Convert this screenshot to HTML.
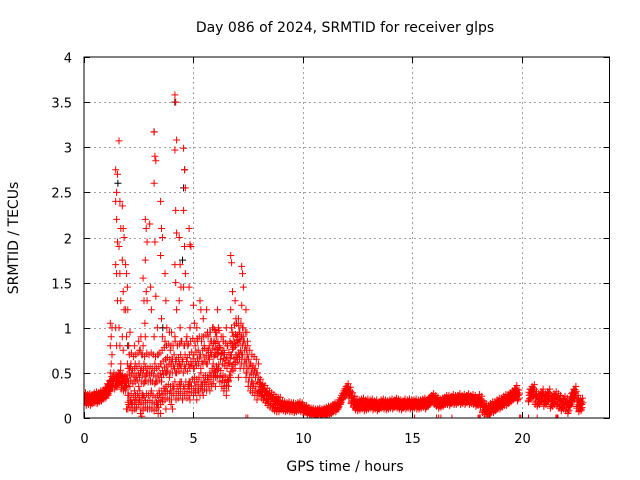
<!DOCTYPE html>
<html><head><meta charset="utf-8"><style>
body{margin:0;background:#fff}
svg{display:block;font-family:"DejaVu Sans","Liberation Sans",sans-serif}
</style></head><body>
<svg id="chart" width="640" height="480" viewBox="0 0 640 480">
<rect width="640" height="480" fill="#fff"/>
<text x="345" y="32" font-size="14" text-anchor="middle" fill="#000">Day 086 of 2024, SRMTID for receiver glps</text>
<text transform="translate(18,238) rotate(-90)" font-size="14" text-anchor="middle">SRMTID / TECUs</text>
<text x="345" y="471" font-size="14" text-anchor="middle">GPS time / hours</text>
<g id="grid"></g>
<g id="ticks"></g>
<g id="marks"></g>
<rect x="84" y="57" width="525.5" height="361" fill="none" stroke="#000" stroke-width="1"/>
</svg>
<script>
const xTicks=[0,5,10,15,20];
const yTicks=[0,0.5,1,1.5,2,2.5,3,3.5,4];
const yTickLabels=["0","0.5","1","1.5","2","2.5","3","3.5","4"];
const baseStart=0.0, baseStep=0.1;
const baseMid=[.22,.2,.21,.2,.22,.23,.22,.24,.25,.27,
.3,.33,.38,.42,.4,.42,.45,.4,.38,.4,
.4,.42,.38,.4,.42,.45,.4,.38,.42,.4,
.42,.4,.38,.4,.42,.45,.48,.5,.52,.5,
.5,.55,.5,.52,.55,.5,.55,.52,.55,.58,
.55,.58,.6,.55,.6,.62,.6,.65,.7,.68,
.7,.72,.65,.6,.58,.55,.6,.7,.78,.8,
.82,.85,.8,.75,.65,.55,.5,.48,.45,.4,
.35,.3,.28,.25,.22,.2,.18,.16,.15,.15,
.14,.13,.12,.13,.12,.12,.11,.12,.13,.12,
.1,.1,.08,.07,.07,.06,.06,.07,.06,.07,
.07,.08,.08,.1,.12,.12,.15,.2,.25,.3,
.32,.28,.22,.18,.15,.14,.15,.16,.14,.15,
.15,.16,.14,.15,.13,.15,.16,.15,.14,.15,
.16,.15,.17,.16,.15,.14,.16,.15,.16,.15,
.15,.16,.15,.15,.16,.17,.15,.18,.2,.22,
.2,.18,.16,.17,.18,.2,.2,.19,.21,.2,
.2,.22,.2,.21,.2,.22,.2,.21,.2,.18,
.2,.18,.12,.1,.08,.1,.12,.12,.14,.16,
.16,.18,.2,.2,.22,.24,.26,.3,.25,null,
null,null,null,.25,.28,.3,.22,.2,.22,.25,
.2,.22,.25,.18,.2,.22,.2,.18,.15,.17,
.15,.12,.2,.25,.28,.18,.14,.15];
const spreadPerHour=[.06,.08,.3,.3,.3,.3,.25,.2,.08,.05,.04,.05,.06,.05,.05,.05,.05,.05,.06,.06,.07,.07,.07,.07];
const spikeT=[1.2,1.45,1.6,1.75,1.9,2.1,2.3,2.5,2.7,2.8,3.0,3.2,3.5,3.7,3.9,4.15,4.35,4.55,4.8,5.0,5.3,5.6,5.9,6.1,6.35,6.7,6.9,7.2,7.4,7.6,2.0,2.6,3.35,4.0,4.7,5.15,5.45,5.75,6.0,6.5,7.05];
const spikeV=[[.5,.6,.7,.8,.9,1.0,1.05],[2.4,2.5,2.7,2.75,2.2,1.95,1.7,1.6,1.3,1.0,.8],[3.07,2.4,2.1,1.9,1.6,1.3,1.0,.8,.6,.4],[2.35,2.1,2.0,1.75,1.4,1.2,.9,.75],[1.7,1.6,1.45,1.2,.9,.6,.3,.1],[.95,.6,.5,.35,.2,.15],[.8,.6,.45,.3,.2,.1],[.85,.75,.5,.35,.2,.05],[1.55,1.3,1.05,.8,.6,.4,.25],[2.2,2.1,1.95,1.75,1.4,1.3,.9,.5],[2.15,1.45,1.2,.5,.4,.3,.1],[3.17,2.9,2.85,2.6,1.95,1.35,.9,.6,.4,.1],[2.4,2.1,2.0,1.8,1.1,.9,.6,.4,.2,.05],[1.6,1.3,1.0,.85,.65,.5,.3,.1],[.95,.75,.6,.45,.3,.15],[3.58,3.5,3.08,2.97,2.3,2.05,1.7,1.5,1.2,.9,.5],[2.0,1.7,1.45,1.3,1.0,.85,.6,.4],[2.99,2.75,2.55,2.3,1.9,1.6,1.45,.8,.55],[2.1,1.92,1.9,1.45,1.0,.6,.4,.2],[1.25,1.05,.8,.55,.45,.3],[1.3,1.2,.9,.7,.5,.35],[1.2,.95,.75,.6,.45],[1.0,.85,.7,.6,.5],[1.2,1.0,.8,.7,.55],[.9,.75,.6,.45,.3],[1.8,1.72,1.4,1.2,1.0,.8,.7],[1.3,1.1,.9,.8,.7],[1.68,1.6,1.45,1.25,1.0,.9,.7],[1.2,.95,.8,.6,.5,0],[.6,.5,.4,.3],[1.2,.8,.55,.25,.15],[.9,.7,.25,.1,.02],[1.0,.7,.3,.15,.05],[.95,.65,.35,.2,.1],[.9,.8,.35,.25],[1.0,.85,.3,.2],[1.1,.8,.4,.25],[.95,.85,.35,.3],[.95,.9,.45,.35],[1.0,.8,.4,.25],[1.1,.95,.55,.45]];
const zeroT=[7.4,10.8,15.1,16.1,16.2,16.3,16.8,18.0,18.05,18.1,18.55,19.9,19.95,20.3,20.7,21.55,21.6,21.65];
const blackT=[1.55,3.2,4.15,4.55,4.6,4.5,2.0,3.6];
const blackV=[2.6,3.17,3.5,2.55,2.75,1.75,0.8,1.0];

const X0=84,X1=609.5,Y0=418,Y1=57,XMAX=24,YMAX=4;
const sx=t=>X0+t/XMAX*(X1-X0);
const sy=v=>Y0-v/YMAX*(Y0-Y1);
const NS="http://www.w3.org/2000/svg";
const grid=document.getElementById('grid'),ticks=document.getElementById('ticks'),marks=document.getElementById('marks');
function ln(g,x1,y1,x2,y2,st,dash){const l=document.createElementNS(NS,'line');l.setAttribute('x1',x1);l.setAttribute('y1',y1);l.setAttribute('x2',x2);l.setAttribute('y2',y2);l.setAttribute('stroke',st);if(dash)l.setAttribute('stroke-dasharray',dash);g.appendChild(l);return l;}
xTicks.forEach(t=>{const x=Math.round(sx(t))+0.5;
 if(t>0){const g=ln(grid,x,Y1,x,Y0,'#a0a0a0','2,3');
 
 }
 ln(ticks,x,Y0,x,Y0-6,'#000');ln(ticks,x,Y1,x,Y1+6,'#000');
 const tx=document.createElementNS(NS,'text');tx.setAttribute('x',x);tx.setAttribute('y',443);tx.setAttribute('font-size','13');tx.setAttribute('text-anchor','middle');tx.textContent=t;
 
 
 ticks.appendChild(tx);});
yTicks.forEach((v,i)=>{const y=Math.round(sy(v))+0.5;
 if(v>0&&v<4){const g=ln(grid,X0,y,X1,y,'#a0a0a0','2,3');
 
 }
 ln(ticks,X0,y,X0+6,y,'#000');ln(ticks,X1,y,X1-6,y,'#000');
 const tx=document.createElementNS(NS,'text');tx.setAttribute('x',72);tx.setAttribute('y',y+5);tx.setAttribute('font-size','13');tx.setAttribute('text-anchor','end');tx.textContent=yTickLabels[i];
 
 
 ticks.appendChild(tx);});
let path='',pathB='';
function plus(t,v){const x=sx(t),y=sy(v);if(y>Y0+4)return '';return `M${(x-3.5).toFixed(1)} ${y.toFixed(1)}h7M${x.toFixed(1)} ${(y-3.5).toFixed(1)}v7`;}
blackT.forEach((t,i)=>{pathB+=plus(t,blackV[i]);});
baseMid.forEach((v,i)=>{if(v===null)return;const t=baseStart+i*baseStep;const s=spreadPerHour[Math.min(23,Math.floor(t))];
 path+=plus(t,Math.max(0,v-s))+plus(t+0.033,v)+plus(t+0.067,v+s)+plus(t+0.05,Math.max(0,v-s/2))+plus(t+0.017,v+s/2)+plus(t+0.083,v+s*0.25)+plus(t+0.01,Math.max(0,v-s*0.75));});
spikeT.forEach((t,i)=>{spikeV[i].forEach((v,j)=>{path+=plus(t+(j%3)*0.04,v);});});
zeroT.forEach(t=>{path+=plus(t,0);});
const pb=document.createElementNS(NS,'path');pb.setAttribute('d',pathB);pb.setAttribute('stroke','#000');pb.setAttribute('fill','none');


marks.appendChild(pb);
const pr=document.createElementNS(NS,'path');pr.setAttribute('d',path);pr.setAttribute('stroke','#ff0000');pr.setAttribute('fill','none');


marks.appendChild(pr);
const clip=document.createElementNS(NS,'clipPath');clip.id='pc';const cr=document.createElementNS(NS,'rect');cr.setAttribute('x',X0);cr.setAttribute('y',Y1);cr.setAttribute('width',X1-X0);cr.setAttribute('height',Y0-Y1);clip.appendChild(cr);document.getElementById('chart').appendChild(clip);
marks.setAttribute('clip-path','url(#pc)');
</script>
</body></html>
